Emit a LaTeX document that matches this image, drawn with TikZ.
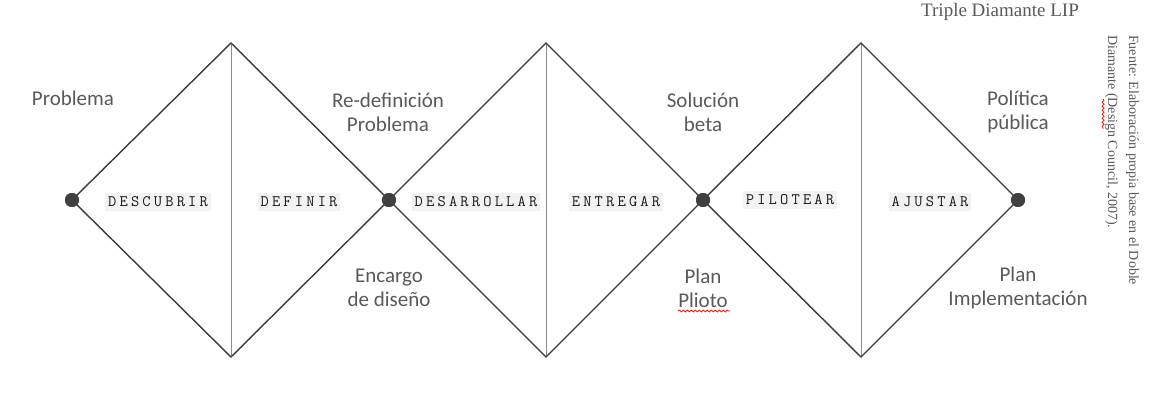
\documentclass[tikz,border=0pt]{standalone}
\usepackage{fontspec}
\setmainfont{Liberation Serif}
\newfontfamily\labfont{Carlito}
\newfontfamily\monofont[LetterSpace=20]{Latin Modern Mono}
\usetikzlibrary{decorations.pathmorphing}
\definecolor{linegray}{HTML}{3A3A3A}
\definecolor{vgray}{HTML}{8C8C8C}
\definecolor{txtgray}{HTML}{595959}
\definecolor{boxgray}{HTML}{F2F2F2}
\definecolor{dotgray}{HTML}{404040}
\tikzset{
  dotnode/.style={circle, fill=dotgray, minimum size=14pt, inner sep=0pt},
  edge/.style={draw=linegray, line width=1.4pt},
  vline/.style={draw=vgray, line width=0.8pt},
  phase/.style={fill=boxgray, text=black!90, font=\monofont\fontsize{16}{16}\selectfont, inner xsep=3pt, inner ysep=0pt, minimum height=18pt},
  lab/.style={text=txtgray, font=\labfont\fontsize{21}{24}\selectfont, align=center, inner sep=0pt},
  squig/.style={draw=red, line width=0.7pt, decorate, decoration={snake, amplitude=1pt, segment length=4pt}}
}
\begin{document}
\begin{tikzpicture}[x=1pt,y=-1pt]
\useasboundingbox (0,0) rectangle (1152,401);
% key points
\coordinate (t1) at (231,43);
\coordinate (t2) at (546,43);
\coordinate (t3) at (861,43);
\coordinate (b1) at (231,357);
\coordinate (b2) at (546,357);
\coordinate (b3) at (861,357);
% vertical lines
\draw[vline] (t1) -- (b1);
\draw[vline] (t2) -- (b2);
\draw[vline] (t3) -- (b3);
% dots
\node[dotnode] (d1) at (72,200) {};
\node[dotnode] (d2) at (389,200) {};
\node[dotnode] (d3) at (703,200) {};
\node[dotnode] (d4) at (1018,200) {};
% diamonds
\draw[edge] (d1.center) -- (t1) -- (d2.center) -- (b1) -- cycle;
\draw[edge] (d2.center) -- (t2) -- (d3.center) -- (b2) -- cycle;
\draw[edge] (d3.center) -- (t3) -- (d4.center) -- (b3) -- cycle;
\node[dotnode] at (d1) {};
\node[dotnode] at (d2) {};
\node[dotnode] at (d3) {};
\node[dotnode] at (d4) {};
% phase labels
\node[phase] (p1) at (158,202) {DESCUBRIR};
\node[phase] (p2) at (299,202) {DEFINIR};
\node[phase] (p3) at (476,202) {DESARROLLAR};
\node[phase] (p4) at (616,202) {ENTREGAR};
\node[phase] (p5) at (790,200) {PILOTEAR};
\node[phase] (p6) at (930,202) {AJUSTAR};
% upper labels
\node[lab] (l1) at (73,98) {Problema};
\node[lab] (l2) at (388,112) {Re-definición\\Problema};
\node[lab] (l3) at (703,112) {Solución\\beta};
\node[lab] (l4) at (1018,112) {Política\\pública};
% lower labels
\node[lab] (l5) at (389,288) {Encargo\\de diseño};
\node[lab] (l6) at (703,288) {Plan\\Plioto};
\node[lab] (l7) at (1018,288) {Plan\\Implementación};
\draw[squig] (678,311) -- (730,311);
% title
\node[text=txtgray, font=\fontsize{19}{19}\selectfont, anchor=center] (title) at (1000,12) {Triple Diamante LIP};
% source note
\node[text=txtgray, font=\fontsize{14}{21}\selectfont, rotate=-90, anchor=north west, align=left, inner sep=0pt] (src) at (1139,35) {Fuente: Elaboración propia base en el Doble\\Diamante (Design Council, 2007).};
\draw[squig] (1103,99) -- (1103,129);
\end{tikzpicture}
\end{document}
